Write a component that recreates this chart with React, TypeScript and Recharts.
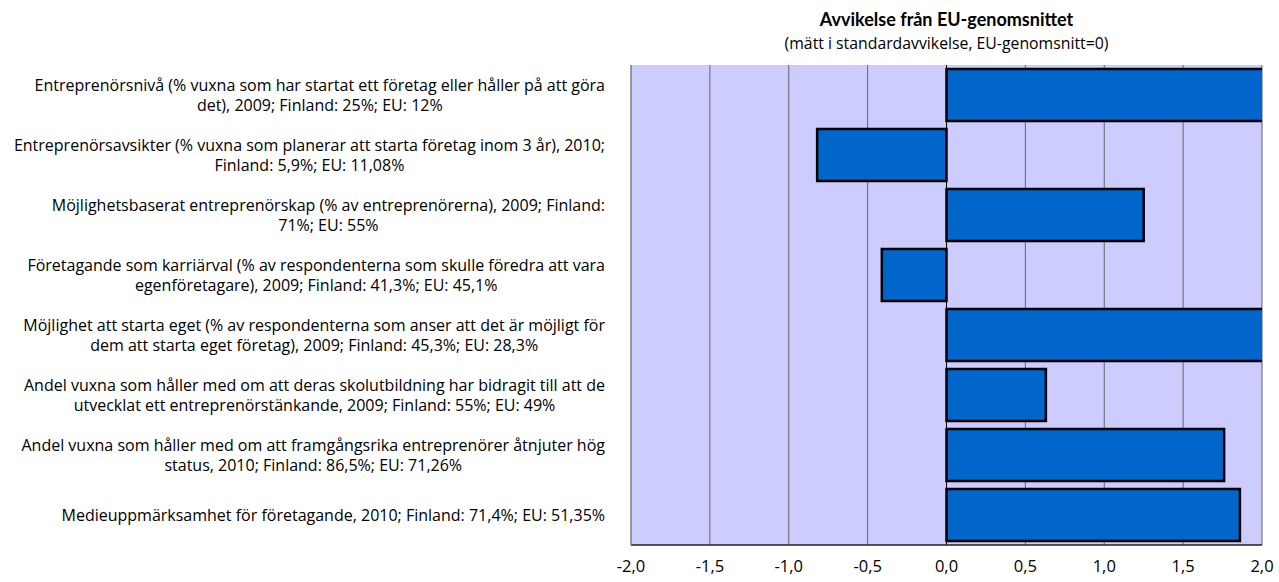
import React from 'react';
import { BarChart, Bar, XAxis, YAxis, CartesianGrid, ReferenceLine } from 'recharts';

const categories: string[] = [
  'Entreprenörsnivå (% vuxna som har startat ett företag eller håller på att göra\ndet), 2009; Finland: 25%; EU: 12%',
  'Entreprenörsavsikter (% vuxna som planerar att starta företag inom 3 år), 2010;\nFinland: 5,9%; EU: 11,08%',
  'Möjlighetsbaserat entreprenörskap (% av entreprenörerna), 2009; Finland:\n71%; EU: 55%',
  'Företagande som karriärval (% av respondenterna som skulle föredra att vara\negenföretagare), 2009; Finland: 41,3%; EU: 45,1%',
  'Möjlighet att starta eget (% av respondenterna som anser att det är möjligt för\ndem att starta eget företag), 2009; Finland: 45,3%; EU: 28,3%',
  'Andel vuxna som håller med om att deras skolutbildning har bidragit till att de\nutvecklat ett entreprenörstänkande, 2009; Finland: 55%; EU: 49%',
  'Andel vuxna som håller med om att framgångsrika entreprenörer åtnjuter hög\nstatus, 2010; Finland: 86,5%; EU: 71,26%',
  'Medieuppmärksamhet för företagande, 2010; Finland: 71,4%; EU: 51,35%',
];

const values: number[] = [2.1, -0.82, 1.25, -0.41, 2.1, 0.63, 1.76, 1.86];

const xTicks: number[] = [-2, -1.5, -1, -0.5, 0, 0.5, 1, 1.5, 2];

const title = 'Avvikelse från EU-genomsnittet';
const subtitle = '(mätt i standardavvikelse, EU-genomsnitt=0)';

const data = categories.map((name, i) => ({ name, value: values[i] }));

const FONT = '"Open Sans", Lato, sans-serif';
const TITLE_FONT = 'Lato, "Open Sans", sans-serif';
const LABEL_SIZE = 16;

let ctx: CanvasRenderingContext2D | null = null;
function measure(text: string): number {
  if (!ctx) {
    const c = document.createElement('canvas');
    ctx = c.getContext('2d');
  }
  if (!ctx) return text.length * 7;
  ctx.font = `${LABEL_SIZE}px "Open Sans"`;
  return ctx.measureText(text).width;
}

const CategoryTick = (props: any) => {
  const { x, y, payload } = props;
  const lines: string[] = String(payload.value).split('\n');
  const maxW = Math.max(...lines.map(measure));
  const cx = x - maxW / 2;
  const lh = 20;
  const startY = y - ((lines.length - 1) * lh) / 2;
  return (
    <g>
      {lines.map((ln, i) => (
        <text
          key={i}
          x={cx}
          y={startY + i * lh}
          textAnchor="middle"
          dominantBaseline="central"
          fontFamily={FONT}
          fontSize={LABEL_SIZE}
          fill="#000"
        >
          {ln}
        </text>
      ))}
    </g>
  );
};

export default function App() {
  return (
    <div style={{ position: 'absolute', left: 0, top: 0, width: 1279, height: 582, background: '#fff' }}>
      <div
        style={{
          position: 'absolute',
          left: 631,
          width: 631,
          top: 6,
          textAlign: 'center',
          color: '#000',
        }}
      >
        <div style={{ fontWeight: 'bold', fontSize: 18, lineHeight: '26px', fontFamily: TITLE_FONT }}>{title}</div>
        <div style={{ fontSize: 15.8, lineHeight: '22px', fontFamily: FONT }}>{subtitle}</div>
      </div>
      <BarChart
        width={1279}
        height={582}
        data={data}
        layout="vertical"
        margin={{ top: 65, right: 17, bottom: 0, left: 0 }}
        barCategoryGap={4}
      >
        <CartesianGrid
          horizontal={false}
          vertical={true}
          fill="#CCCCFF"
          fillOpacity={1}
          stroke="#666"
        />
        <XAxis
          type="number"
          domain={[-2, 2]}
          ticks={xTicks}
          allowDataOverflow={true}
          tickFormatter={(v: number) => v.toFixed(1).replace('.', ',')}
          axisLine={{ stroke: '#222', strokeWidth: 1.5 }}
          tickLine={false}
          tickMargin={9}
          height={37}
          tick={{ fontSize: 16.5, fill: '#000', fontFamily: FONT }}
        />
        <XAxis
          xAxisId="top"
          orientation="top"
          type="number"
          domain={[-2, 2]}
          ticks={xTicks}
          allowDataOverflow={true}
          axisLine={{ stroke: '#999' }}
          tickLine={false}
          tick={false}
          height={0}
        />
        <YAxis
          type="category"
          dataKey="name"
          width={631}
          axisLine={{ stroke: '#888' }}
          tickLine={false}
          tickMargin={20}
          interval={0}
          tick={<CategoryTick />}
        />
        <ReferenceLine x={0} stroke="#000" strokeWidth={1} />
        <Bar dataKey="value" fill="#0066CC" stroke="#000" strokeWidth={2.5} isAnimationActive={false} />
      </BarChart>
    </div>
  );
}
